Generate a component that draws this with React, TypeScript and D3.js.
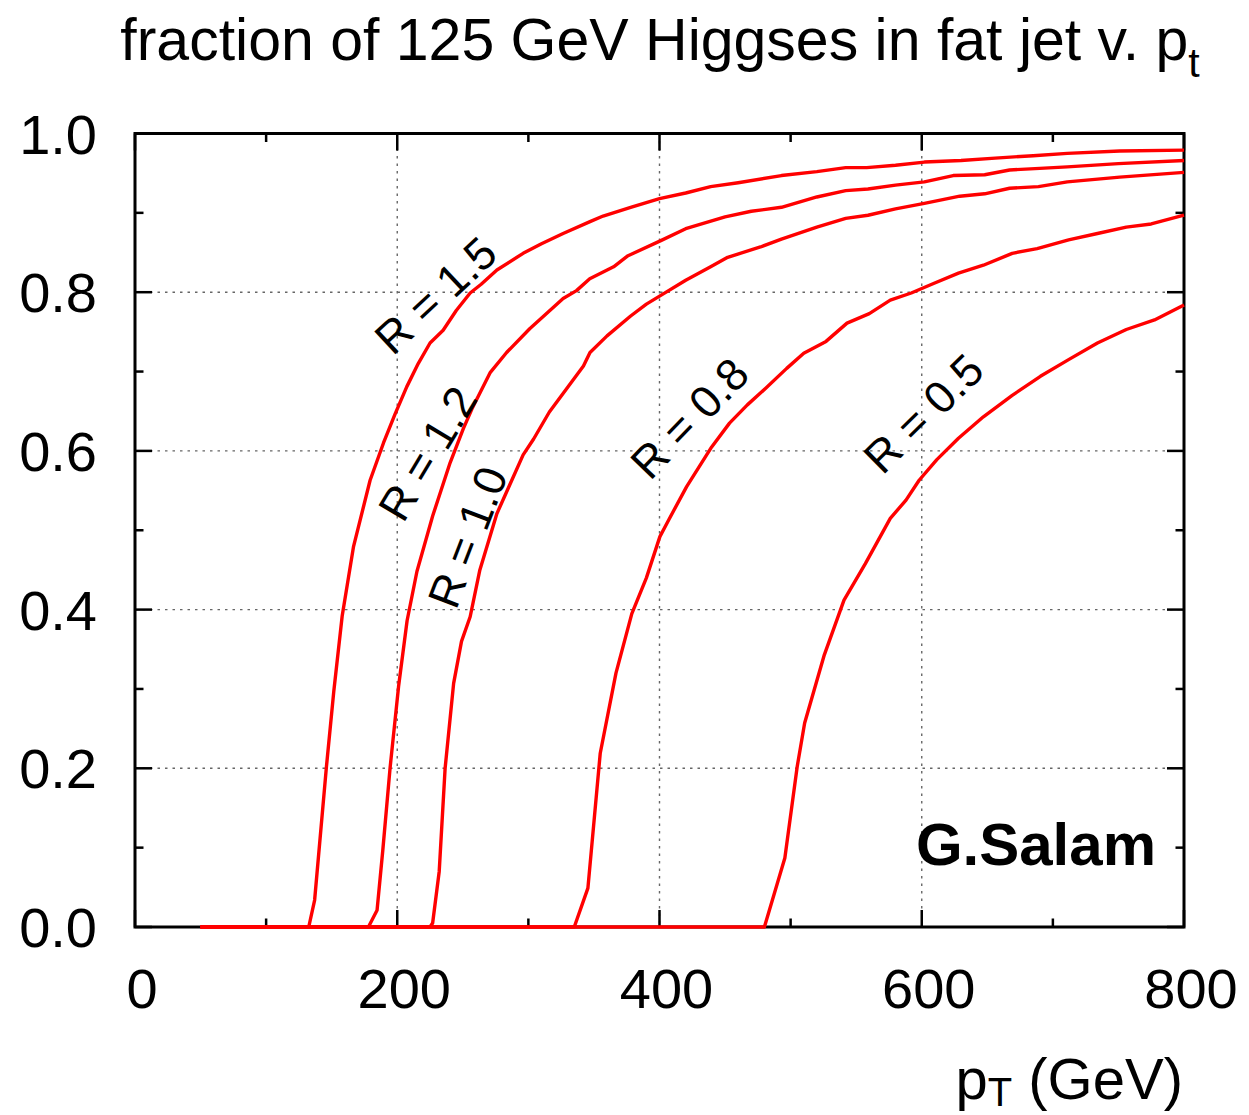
import React from "react";
import * as d3 from "d3";

// ---- data (pT in GeV, fraction) ----
const r15: [number, number][] = [
  [50, 0], [132.5, 0], [137, 0.034], [146, 0.202], [151.6, 0.297], [158, 0.392], [166.6, 0.479],
  [179.3, 0.563], [189.5, 0.61], [198, 0.645], [207.3, 0.681], [216, 0.71], [225, 0.736],
  [235, 0.752], [245, 0.777], [255.6, 0.799], [264, 0.81], [276, 0.828], [296, 0.849],
  [310, 0.861], [326.5, 0.874], [347, 0.889], [357, 0.896], [378, 0.907], [400, 0.918],
  [420, 0.925], [439, 0.933], [460, 0.938], [493, 0.947], [520, 0.952], [542, 0.957],
  [558, 0.957], [580, 0.96], [602, 0.964], [630, 0.966], [656, 0.969], [685, 0.972],
  [711, 0.975], [751, 0.978], [800, 0.979],
];
const r12: [number, number][] = [
  [50, 0], [178, 0], [184.6, 0.021], [189, 0.097], [194.5, 0.2], [201, 0.303], [207.5, 0.386],
  [215, 0.448], [227, 0.518], [240.3, 0.585], [250.4, 0.628], [257, 0.653], [271, 0.699],
  [283.4, 0.724], [301, 0.754], [326.5, 0.792], [336.7, 0.802], [346.8, 0.817], [365, 0.832],
  [376, 0.846], [401, 0.865], [420, 0.88], [450, 0.895], [470, 0.902], [493, 0.907],
  [520, 0.92], [542, 0.928], [559, 0.93], [580, 0.935], [602, 0.939], [624, 0.947],
  [648, 0.948], [667, 0.954], [690, 0.956], [711, 0.958], [750, 0.962], [800, 0.966],
];
const r10: [number, number][] = [
  [50, 0], [225, 0], [227, 0.005], [232, 0.07], [236.5, 0.2], [243, 0.307], [249, 0.36],
  [255.6, 0.391], [263, 0.45], [276, 0.521], [296, 0.595], [304, 0.615], [316, 0.649],
  [329, 0.678], [342, 0.707], [347, 0.724], [360, 0.745], [378, 0.77], [390, 0.785],
  [401, 0.796], [420, 0.815], [439, 0.832], [452, 0.844], [477, 0.857], [493, 0.867],
  [520, 0.882], [542, 0.893], [559, 0.897], [580, 0.905], [602, 0.912], [629, 0.921],
  [648, 0.924], [667, 0.931], [689, 0.933], [711, 0.939], [751, 0.945], [800, 0.951],
];
const r08: [number, number][] = [
  [50, 0], [335, 0], [345.4, 0.049], [354.8, 0.219], [366.8, 0.32], [378.9, 0.395], [390, 0.44],
  [400.3, 0.492], [407, 0.513], [420.7, 0.555], [439.8, 0.605], [453.4, 0.635], [467, 0.658],
  [481, 0.679], [497, 0.704], [510, 0.723], [527, 0.738], [543, 0.761], [560, 0.773],
  [576, 0.79], [592, 0.799], [609, 0.811], [628, 0.824], [647, 0.834], [669, 0.849],
  [688, 0.855], [712, 0.866], [734, 0.874], [756, 0.882], [775, 0.886], [800, 0.897],
];
const r05: [number, number][] = [
  [50, 0], [480, 0], [495.6, 0.087], [505, 0.202], [510.7, 0.257], [525.7, 0.343],
  [540.7, 0.412], [557, 0.458], [576, 0.515], [588, 0.538], [598, 0.563], [611.5, 0.589],
  [628, 0.616], [647, 0.643], [669, 0.67], [690.5, 0.694], [712, 0.715], [734, 0.736],
  [756, 0.753], [777.5, 0.765], [800, 0.784],
];

const seriesList = [r15, r12, r10, r08, r05];

// curve labels: text, pT, fraction (label centre), angle
const labelTexts = ["R = 1.5", "R = 1.2", "R = 1.0", "R = 0.8", "R = 0.5"];
const labelPt = [229, 222.8, 253.3, 422.7, 601];
const labelFrac = [0.7965, 0.597, 0.4915, 0.6415, 0.6477];
const labelAngle = [-43, -59, -69, -46, -44.7];

const xMajorTicks = [0, 200, 400, 600, 800];
const xMinorTicks = [100, 300, 500, 700];
const yMajorTicks = [0, 0.2, 0.4, 0.6, 0.8, 1.0];
const yMinorTicks = [0.1, 0.3, 0.5, 0.7, 0.9];
const xGrid = [200, 400, 600];
const yGrid = [0.2, 0.4, 0.6, 0.8];

const FONT = "'Liberation Sans', Arial, Helvetica, sans-serif";

export default function App() {
  const W = 1249, H = 1115;
  const left = 135, right = 1184, top = 133.5, bottom = 927;
  const x = d3.scaleLinear().domain([0, 800]).range([left, right]);
  const y = d3.scaleLinear().domain([0, 1]).range([bottom, top]);
  const line = d3.line<[number, number]>().x((d) => x(d[0])).y((d) => y(d[1]));
  const majLen = 17, minLen = 8.5;

  return (
    <svg width={W} height={H} style={{ position: "absolute", left: 0, top: 0, background: "#fff" }}
      fontFamily={FONT}>
      <rect x={0} y={0} width={W} height={H} fill="#fff" />
      {/* grid */}
      {xGrid.map((v) => (
        <line key={"gx" + v} x1={x(v)} x2={x(v)} y1={top} y2={bottom} stroke="#666"
          strokeWidth={1.4} strokeDasharray="2.5,5" />
      ))}
      {yGrid.map((v) => (
        <line key={"gy" + v} x1={left} x2={right} y1={y(v)} y2={y(v)} stroke="#666"
          strokeWidth={1.4} strokeDasharray="2.5,5" />
      ))}
      {/* ticks */}
      {xMajorTicks.map((v) => (
        <g key={"xt" + v}>
          <line x1={x(v)} x2={x(v)} y1={bottom} y2={bottom - majLen} stroke="#000" strokeWidth={2.5} />
          <line x1={x(v)} x2={x(v)} y1={top} y2={top + majLen} stroke="#000" strokeWidth={2.5} />
        </g>
      ))}
      {xMinorTicks.map((v) => (
        <g key={"xm" + v}>
          <line x1={x(v)} x2={x(v)} y1={bottom} y2={bottom - minLen} stroke="#000" strokeWidth={2.5} />
          <line x1={x(v)} x2={x(v)} y1={top} y2={top + minLen} stroke="#000" strokeWidth={2.5} />
        </g>
      ))}
      {yMajorTicks.map((v) => (
        <g key={"yt" + v}>
          <line x1={left} x2={left + majLen} y1={y(v)} y2={y(v)} stroke="#000" strokeWidth={2.5} />
          <line x1={right} x2={right - majLen} y1={y(v)} y2={y(v)} stroke="#000" strokeWidth={2.5} />
        </g>
      ))}
      {yMinorTicks.map((v) => (
        <g key={"ym" + v}>
          <line x1={left} x2={left + minLen} y1={y(v)} y2={y(v)} stroke="#000" strokeWidth={2.5} />
          <line x1={right} x2={right - minLen} y1={y(v)} y2={y(v)} stroke="#000" strokeWidth={2.5} />
        </g>
      ))}
      {/* frame */}
      <rect x={left} y={top} width={right - left} height={bottom - top} fill="none" stroke="#000" strokeWidth={3} />
      {/* curves */}
      {seriesList.map((s, i) => (
        <path key={"s" + i} d={line(s) || ""} fill="none" stroke="#ff0000" strokeWidth={3.4}
          strokeLinejoin="round" />
      ))}
      {/* curve labels */}
      {labelTexts.map((t, i) => {
        const cx = x(labelPt[i]), cy = y(labelFrac[i]);
        return (
          <text key={"l" + i} x={cx} y={cy} dy="0.36em" textAnchor="middle" fontSize={45}
            transform={`rotate(${labelAngle[i]},${cx},${cy})`} fill="#000">{t}</text>
        );
      })}
      {/* tick labels */}
      {xMajorTicks.map((v) => (
        <text key={"xl" + v} x={x(v) + 7} y={1008} textAnchor="middle" fontSize={56}>{v}</text>
      ))}
      {yMajorTicks.map((v) => (
        <text key={"yl" + v} x={97} y={y(v) + 20} textAnchor="end" fontSize={56}>{v.toFixed(1)}</text>
      ))}
      {/* axis label */}
      <text x={1183} y={1099} textAnchor="end" fontSize={58}>
        p<tspan fontSize={40} dy={7}>T</tspan><tspan dy={-7}> (GeV)</tspan>
      </text>
      {/* title */}
      <text x={660} y={60} textAnchor="middle" fontSize={59}>
        fraction of 125 GeV Higgses in fat jet v. p<tspan fontSize={41} dy={17}>t</tspan>
      </text>
      {/* signature */}
      <text x={1156} y={865} textAnchor="end" fontSize={60} fontWeight="bold">G.Salam</text>
    </svg>
  );
}
